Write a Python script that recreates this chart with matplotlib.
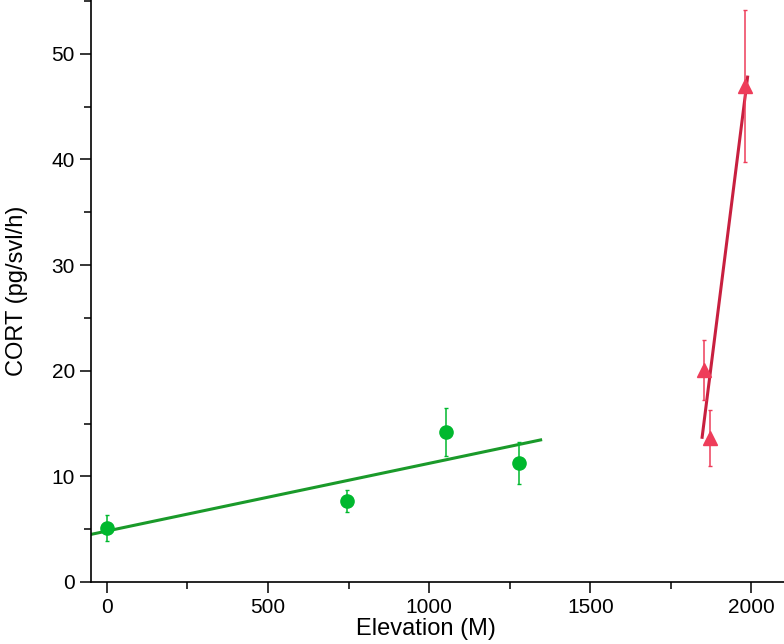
import numpy as np
import matplotlib
matplotlib.use("Agg")
import matplotlib.pyplot as plt
from matplotlib.ticker import MultipleLocator

plt.rcParams['font.family'] = ['Liberation Sans', 'DejaVu Sans']

# low elevation sites (green)
low_elev = [0, 746, 1051, 1279]
low_cort = [5.1, 7.7, 14.2, 11.3]
low_err = [1.2, 1.05, 2.3, 2.0]
low_fit_x = [-67, 1346]
low_fit_y = [4.39, 13.45]

# high elevation sites (red)
high_elev = [1853, 1870, 1981]
high_cort = [20.1, 13.6, 47.0]
high_err = [2.85, 2.65, 7.2]
high_fit_x = [1847, 1988]
high_fit_y = [13.7, 47.8]

fig = plt.figure(figsize=(7.84, 6.44), dpi=100)
ax = fig.add_axes([0.116, 0.0963, 0.884, 0.9037])

ax.plot(low_fit_x, low_fit_y, color="#1a9a2a", lw=2.2, zorder=2)
ax.errorbar(low_elev, low_cort, yerr=low_err, fmt="o", color="#00b82e",
            ms=9.5, elinewidth=1.1, capsize=1.5, capthick=1, zorder=3)

ax.plot(high_fit_x, high_fit_y, color="#c8203f", lw=2.2, zorder=2)
ax.errorbar(high_elev, high_cort, yerr=high_err, fmt="^", color="#ee3d5a",
            ms=10, elinewidth=1.1, capsize=1.5, capthick=1, zorder=3)

ax.set_xlim(-49, 2101)
ax.set_ylim(0, 55.1)
ax.xaxis.set_major_locator(MultipleLocator(500))
ax.xaxis.set_minor_locator(MultipleLocator(250))
ax.yaxis.set_major_locator(MultipleLocator(10))
ax.yaxis.set_minor_locator(MultipleLocator(5))

for s in ["top", "right"]:
    ax.spines[s].set_visible(False)
for s in ["left", "bottom"]:
    ax.spines[s].set_linewidth(1.2)

ax.tick_params(which="major", length=8, width=1.1, labelsize=15, direction="out")
ax.tick_params(which="minor", length=5, width=1.1)

ax.set_xlabel("Elevation (M)", fontsize=17, labelpad=1)
ax.xaxis.label.set_x(0.483)
ax.set_ylabel("CORT (pg/svl/h)", fontsize=17, labelpad=17)

fig.savefig("out.png", dpi=100)
